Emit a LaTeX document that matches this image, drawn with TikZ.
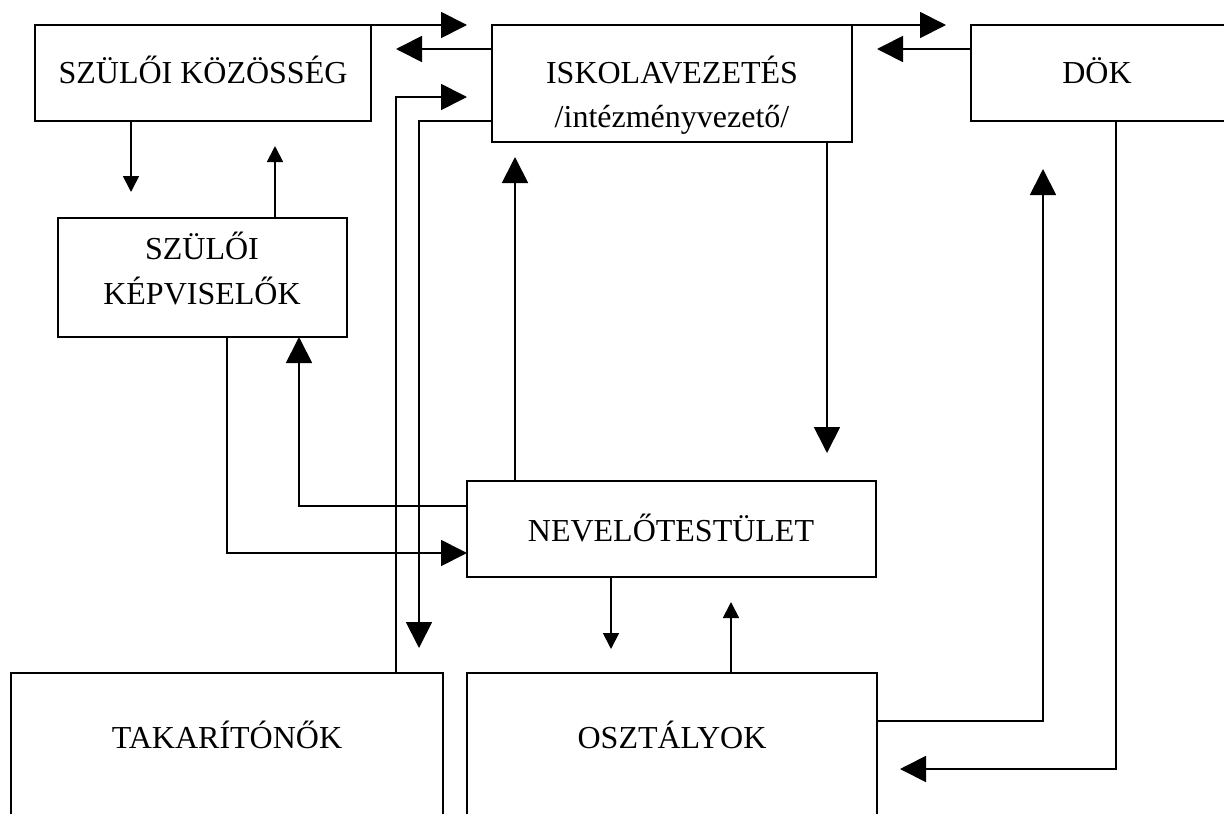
\documentclass[tikz,border=0pt]{standalone}
\usepackage{fontspec}
\setmainfont{Liberation Serif}
\usetikzlibrary{fit,calc,arrows.meta}
\tikzset{
  box/.style={draw, inner sep=0pt, outer sep=0pt, line width=1.8pt},
  lbl/.style={anchor=base, inner sep=0pt, font=\fontsize{32}{40}\selectfont},
  big/.style={-{Triangle[length=26pt,width=26pt]}},
  small/.style={-{Triangle[length=16pt,width=16pt]}}
}
\begin{document}
\begin{tikzpicture}[x=1pt,y=-1pt,line width=1.8pt]
\useasboundingbox (0,0) rectangle (1224,814);
\clip (0,0) rectangle (1224,814);
% boxes
\node[box, fit={(35,25)(371,121)}] (szk) {};
\node[box, fit={(492,25)(852,142)}] (isk) {};
\node[box, fit={(971,25)(1226,121)}] (dok) {};
\node[box, fit={(58,218)(347,337)}] (kep) {};
\node[box, fit={(467,481)(876,577)}] (nev) {};
\node[box, fit={(11,673)(443,830)}] (tak) {};
\node[box, fit={(467,673)(877,830)}] (osz) {};
% texts
\node[lbl] (tszk) at (203,83) {SZÜLŐI KÖZÖSSÉG};
\node[lbl] (tisk1) at (672,83) {ISKOLAVEZETÉS};
\node[lbl] (tisk2) at (672,127) {/intézményvezető/};
\node[lbl] (tdok) at (1097,83) {DÖK};
\node[lbl] (tkep1) at (202,259) {SZÜLŐI};
\node[lbl] (tkep2) at (202,304) {KÉPVISELŐK};
\node[lbl] (tnev) at (671,541) {NEVELŐTESTÜLET};
\node[lbl] (ttak) at (227,748) {TAKARÍTÓNŐK};
\node[lbl] (tosz) at (672,748) {OSZTÁLYOK};
% free ends
\coordinate (eA) at (467,25);
\coordinate (eB) at (396,49);
\coordinate (eC) at (467,97);
\coordinate (eD) at (419,648);
\coordinate (eE) at (946,25);
\coordinate (eF) at (877,49);
\coordinate (eG) at (131,192);
\coordinate (eH) at (275,146);
\coordinate (eK) at (515,157);
\coordinate (eL) at (827,453);
\coordinate (eM) at (611,649);
\coordinate (eN) at (731,602);
\coordinate (eO) at (1043,169);
\coordinate (eP) at (900,769);
% connectors
\draw[big] (szk.north east) -- (eA);
\draw[big] (isk.west |- eB) -- (eB);
\draw[big] (tak.north -| 396,0) -- (396,97) -- (eC);
\draw[big] (isk.west |- 0,121) -- (419,121) -- (eD);
\draw[big] (isk.north east) -- (eE);
\draw[big] (dok.west |- eF) -- (eF);
\draw[small] (szk.south -| eG) -- (eG);
\draw[small] (kep.north -| eH) -- (eH);
\draw[big] (kep.south -| 227,0) -- (227,553) -- (nev.west |- 0,553);
\draw[big] (nev.west |- 0,506) -- (299,506) -- (kep.south -| 299,0);
\draw[big] (nev.north -| eK) -- (eK);
\draw[big] (isk.south -| eL) -- (eL);
\draw[small] (nev.south -| eM) -- (eM);
\draw[small] (osz.north -| eN) -- (eN);
\draw[big] (osz.east |- 0,721) -- (1043,721) -- (eO);
\draw[big] (dok.south -| 1116,0) -- (1116,769) -- (eP);
\end{tikzpicture}
\end{document}
